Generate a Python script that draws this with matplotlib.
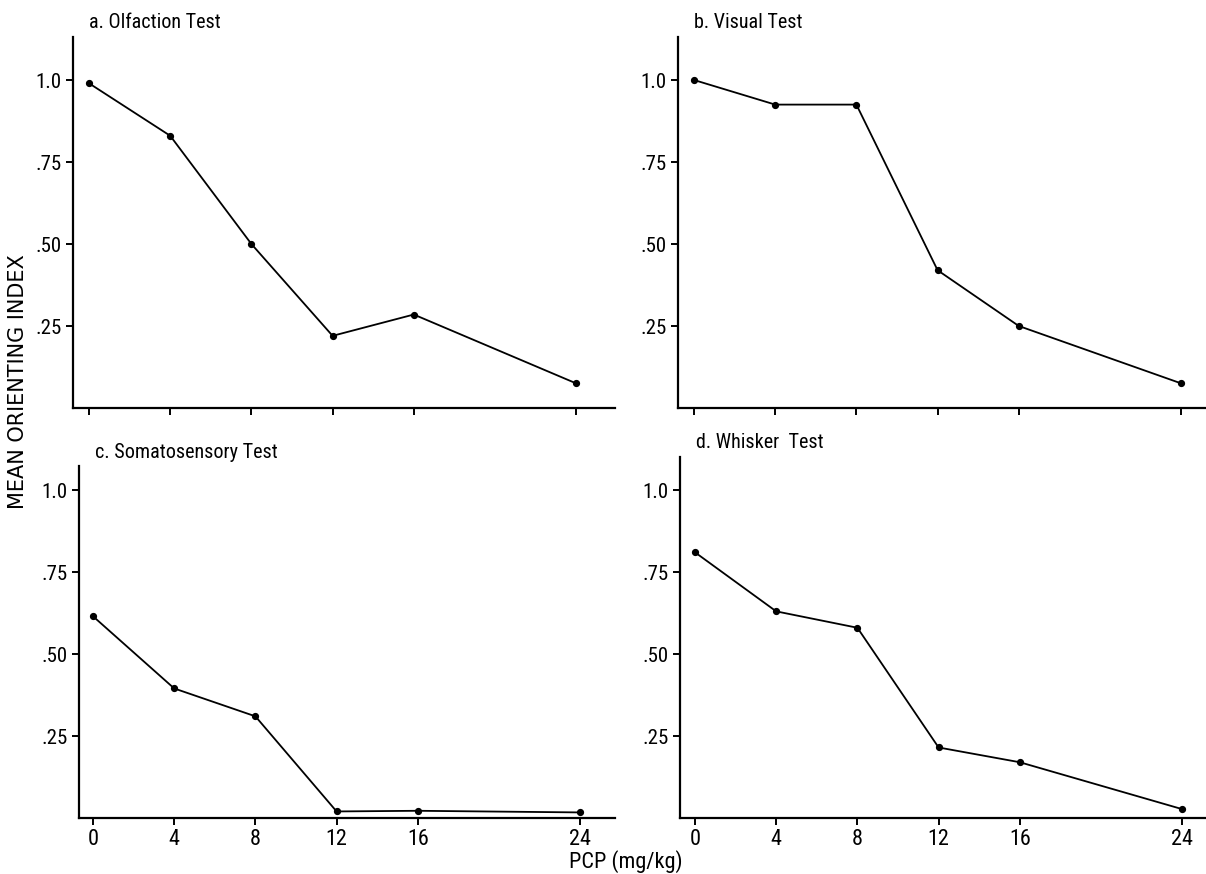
import matplotlib
matplotlib.use("Agg")
import matplotlib.pyplot as plt
from matplotlib import font_manager

# PCP dose (mg/kg) and mean orienting index per test
doses = [0, 4, 8, 12, 16, 24]
olfaction = [0.99, 0.83, 0.50, 0.22, 0.285, 0.075]
visual = [1.0, 0.925, 0.925, 0.42, 0.25, 0.075]
somatosensory = [0.615, 0.395, 0.31, 0.02, 0.022, 0.017]
whisker = [0.81, 0.63, 0.58, 0.215, 0.17, 0.027]

titles = ["a. Olfaction Test", "b. Visual Test", "c. Somatosensory Test", "d. Whisker  Test"]
xtick_labels = ["0", "4", "8", "12", "16", "24"]
ytick_vals = [0.25, 0.50, 0.75, 1.0]
ytick_labels = [".25", ".50", ".75", "1.0"]

# use a narrow face if one is around, the original lettering is condensed
installed = {f.name for f in font_manager.fontManager.ttflist}
narrow = [f for f in ["Liberation Sans Narrow", "DejaVu Sans Condensed", "Roboto Condensed",
                      "Open Sans Condensed", "Liberation Sans"] if f in installed]
narrow = narrow[:1] + ["DejaVu Sans"]
plt.rcParams["font.family"] = narrow

W, H = 1206, 874
fig = plt.figure(figsize=(W / 100, H / 100), dpi=100)

# panel boxes in pixels: left, top, right, bottom, pixel of x=0
boxes = [
    (73, 37, 615, 408, 89),
    (678, 37, 1206, 408, 694),
    (79, 466, 615, 818, 93),
    (680, 457, 1206, 818, 695),
]
ppx = 20.3   # pixels per mg/kg
ppy = 328.0  # pixels per index unit

series = [olfaction, visual, somatosensory, whisker]
for i, (ys, title, (l, t, r, b, x0)) in enumerate(zip(series, titles, boxes)):
    ax = fig.add_axes([l / W, 1 - b / H, (r - l) / W, (b - t) / H])
    ax.plot(doses, ys, color="black", lw=1.3, marker="o", ms=4.2)
    ax.set_xlim(-(x0 - l) / ppx, (r - x0) / ppx)
    ax.set_ylim(0, (b - t) / ppy)
    for s in ["top", "right"]:
        ax.spines[s].set_visible(False)
    for s in ["left", "bottom"]:
        ax.spines[s].set_linewidth(1.6)
    ax.set_xticks(doses)
    if i >= 2:
        ax.set_xticklabels(xtick_labels, fontsize=16)
    else:
        ax.set_xticklabels([])
    ax.set_yticks(ytick_vals)
    ax.set_yticklabels(ytick_labels, fontsize=15)
    ax.tick_params(direction="out", length=5, width=1.4, pad=3)
    ax.text(0.03, 1 + 14 / (b - t), title, transform=ax.transAxes,
            fontsize=14.5, va="center", ha="left")

fig.text(18 / W, 1 - 382 / H, "MEAN ORIENTING INDEX", rotation=90,
         fontsize=15, va="center", ha="center", family=["DejaVu Sans"])
fig.text(626 / W, 1 - 862 / H, "PCP (mg/kg)", fontsize=16, va="center", ha="center")

fig.savefig("out.png", dpi=100)
